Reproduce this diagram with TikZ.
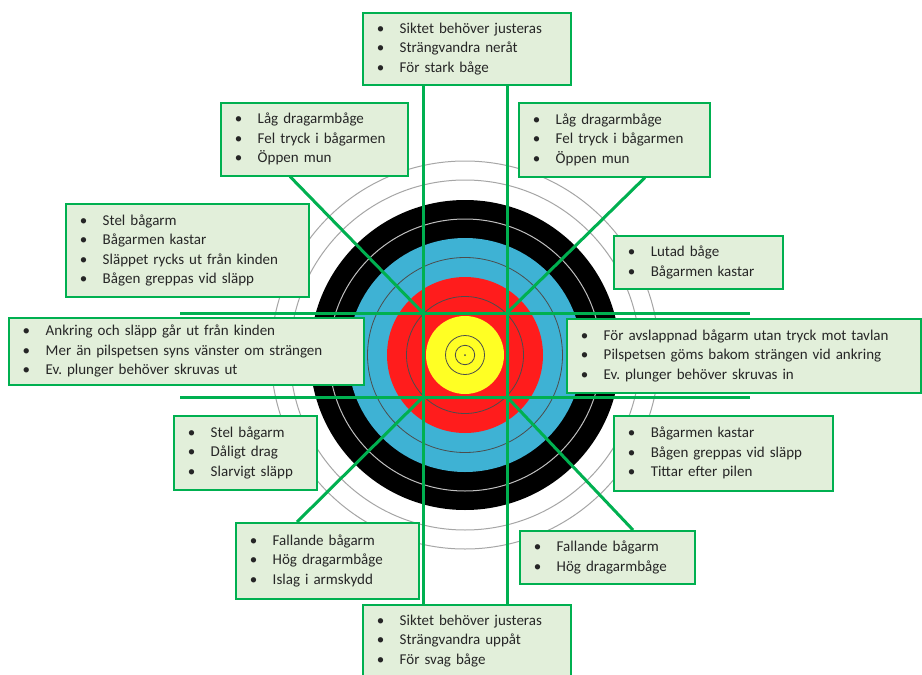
\documentclass[tikz,border=0pt]{standalone}
\usepackage{fontspec}
\setmainfont{Carlito}
\frenchspacing
\definecolor{linegreen}{RGB}{0,176,80}
\definecolor{boxfill}{RGB}{226,239,218}
\definecolor{ringblue}{RGB}{62,178,212}
\definecolor{ringred}{RGB}{255,28,28}
\definecolor{ringyellow}{RGB}{255,255,36}
\newcommand{\bl}{\makebox[23pt][l]{\textbullet}}
\begin{document}
\begin{tikzpicture}[x=1pt, y=-1pt,
  greenline/.style = {linegreen, line width=3pt},
  hintbox/.style = {draw=linegreen, line width=1.5pt, fill=boxfill, anchor=north west,
    inner xsep=14pt, inner ysep=0pt, align=left, text=black!85,
    font=\fontsize{15pt}{19.5pt}\selectfont}]
\useasboundingbox (0,0) rectangle (922,675);
% target
\coordinate (c) at (465,355);
\fill[white] (c) circle (194pt);
\draw[gray!70, line width=1pt] (c) circle (194pt) (c) circle (175pt);
\fill[black] (c) circle (155pt);
\draw[gray!50, line width=1pt] (c) circle (136pt);
\fill[ringblue] (c) circle (117pt);
\draw[black!70, line width=0.8pt] (c) circle (97.5pt);
\fill[ringred] (c) circle (78pt);
\draw[black!70, line width=0.8pt] (c) circle (58.5pt);
\fill[ringyellow] (c) circle (39pt);
\draw[black!70, line width=0.8pt] (c) circle (19.5pt) (c) circle (9.7pt);
\fill[black!70] (c) circle (1pt);
% crossing points
\coordinate (nw) at (423,313);
\coordinate (ne) at (507,313);
\coordinate (sw) at (423,397);
\coordinate (se) at (507,397);
\coordinate (w1) at (180,313);
\coordinate (e1) at (750,313);
\coordinate (w2) at (180,397);
\coordinate (e2) at (750,397);
% boxes
\node[hintbox, text width=180pt, minimum height=72pt] (top) at (362,12)
  {\bl Siktet behöver justeras\\ \bl Strängvandra neråt\\ \bl För stark båge};
\node[hintbox, text width=159pt, minimum height=73pt] (tl) at (220,102)
  {\bl Låg dragarmbåge\\ \bl Fel tryck i bågarmen\\ \bl Öppen mun};
\node[hintbox, text width=163pt, minimum height=74pt] (tr) at (518,102)
  {\bl Låg dragarmbåge\\ \bl Fel tryck i bågarmen\\ \bl Öppen mun};
\node[hintbox, text width=215pt, minimum height=93pt] (ul) at (65,203)
  {\bl Stel bågarm\\ \bl Bågarmen kastar\\ \bl Släppet rycks ut från kinden\\ \bl Bågen greppas vid släpp};
\node[hintbox, text width=141pt, minimum height=53pt] (ur) at (613,235)
  {\bl Lutad båge\\ \bl Bågarmen kastar};
\node[hintbox, text width=327pt, minimum height=67pt] (ml) at (8,317)
  {\bl Ankring och släpp går ut från kinden\\ \bl Mer än pilspetsen syns vänster om strängen\\ \bl Ev. plunger behöver skruvas ut};
\node[hintbox, text width=326pt, minimum height=74pt] (mr) at (566,318)
  {\bl För avslappnad bågarm utan tryck mot tavlan\\ \bl Pilspetsen göms bakom strängen vid ankring\\ \bl Ev. plunger behöver skruvas in};
\node[hintbox, text width=115pt, minimum height=74pt] (ll) at (173,415)
  {\bl Stel bågarm\\ \bl Dåligt drag\\ \bl Slarvigt släpp};
\node[hintbox, text width=191pt, minimum height=75pt] (lr) at (613,415)
  {\bl Bågarmen kastar\\ \bl Bågen greppas vid släpp\\ \bl Tittar efter pilen};
\node[hintbox, text width=155pt, minimum height=76pt] (bl) at (235,522)
  {\bl Fallande bågarm\\ \bl Hög dragarmbåge\\ \bl Islag i armskydd};
\node[hintbox, text width=147pt, minimum height=53pt] (br) at (519,530)
  {\bl Fallande bågarm\\ \bl Hög dragarmbåge};
\node[hintbox, text width=180pt, minimum height=72pt] (bot) at (362,604)
  {\bl Siktet behöver justeras\\ \bl Strängvandra uppåt\\ \bl För svag båge};
% connectors
\draw[greenline] (w1) -- (e1);
\draw[greenline] (w2) -- (e2);
\draw[greenline] (top.south -| nw) -- (bot.north -| sw);
\draw[greenline] (top.south -| ne) -- (bot.north -| se);
\draw[greenline] (nw) -- ([xshift=70pt]tl.south west);
\draw[greenline] (ne) -- ([xshift=127pt]tr.south west);
\draw[greenline] (sw) -- ([xshift=62pt]bl.north west);
\draw[greenline] (se) -- ([xshift=114pt]br.north west);
\end{tikzpicture}
\end{document}
